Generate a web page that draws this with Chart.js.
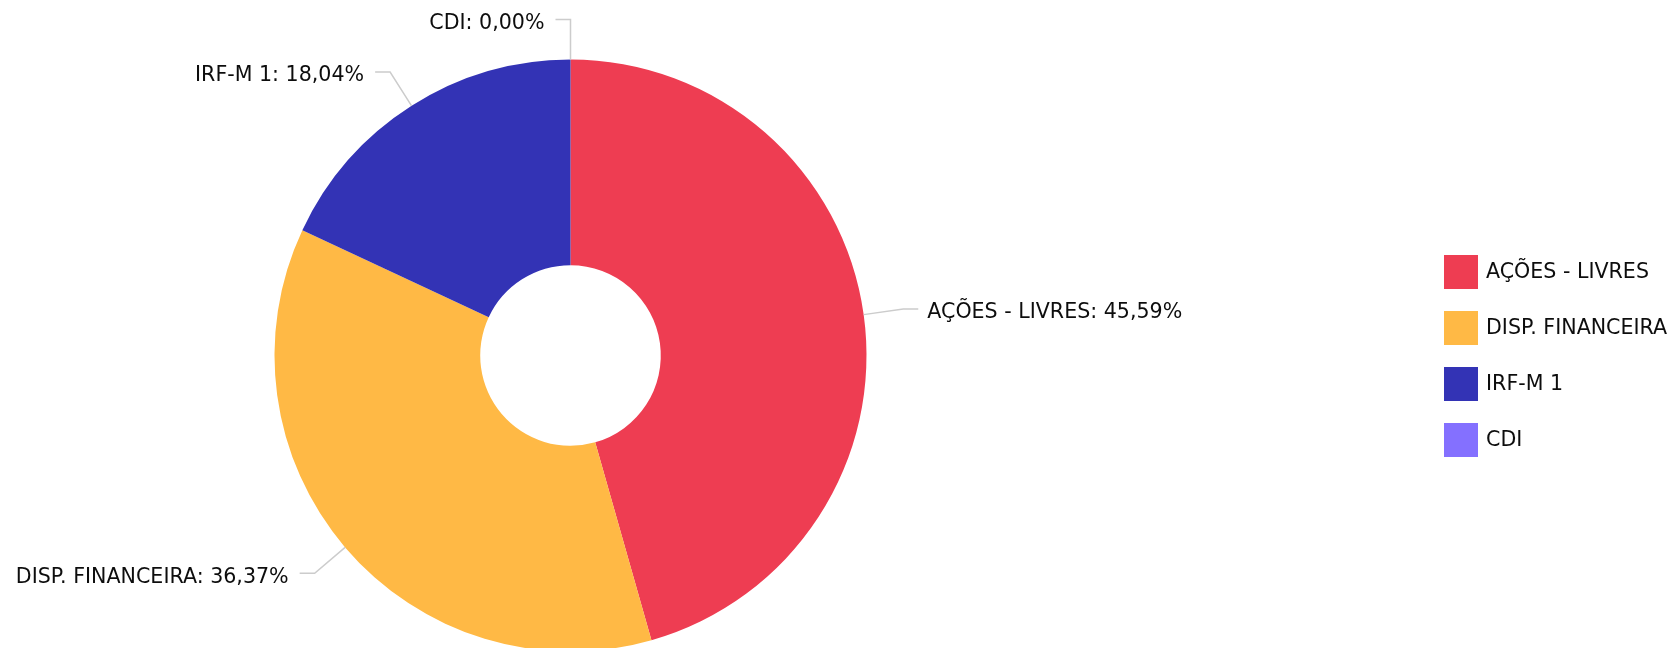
<!DOCTYPE html>
<html>
<head>
<meta charset="utf-8">
<script src="https://cdn.jsdelivr.net/npm/chart.js@4/dist/chart.umd.min.js"></script>
<style>
    html, body { margin: 0; padding: 0; background: #fff; overflow: hidden; }
    #wrap { width: 1675px; height: 648px; position: relative; }
</style>
</head>
<body>
<div id="wrap"><canvas id="allocChart"></canvas></div>
<script>
const categories = ['AÇÕES - LIVRES', 'DISP. FINANCEIRA', 'IRF-M 1', 'CDI'];
const shares = [45.59, 36.37, 18.04, 0.00];
const sliceColors = ['#EE3D52', '#FFB945', '#3333B5', '#8470FF'];

const FONT = '20.6px "DejaVu Sans", Verdana, sans-serif';

// labels outside the ring with a bent connector line
const sliceLabels = {
    id: 'sliceLabels',
    afterDatasetsDraw(chart) {
        const ctx = chart.ctx;
        const meta = chart.getDatasetMeta(0);
        ctx.save();
        ctx.font = FONT;
        ctx.textBaseline = 'middle';
        meta.data.forEach((arc, i) => {
            const p = arc.getProps(['x', 'y', 'startAngle', 'endAngle', 'outerRadius'], true);
            const mid = (p.startAngle + p.endAngle) / 2;
            const cos = Math.cos(mid), sin = Math.sin(mid);
            const ax = p.x + cos * p.outerRadius, ay = p.y + sin * p.outerRadius;
            const ex = p.x + cos * (p.outerRadius + 40), ey = p.y + sin * (p.outerRadius + 40);
            const right = cos > 0.001;
            const hx = ex + (right ? 15 : -15);

            ctx.strokeStyle = '#cccccc';
            ctx.lineWidth = 1.5;
            ctx.beginPath();
            ctx.moveTo(ax, ay);
            ctx.lineTo(ex, ey);
            ctx.lineTo(hx, ey);
            ctx.stroke();

            const txt = categories[i] + ': ' + shares[i].toFixed(2).replace('.', ',') + '%';
            ctx.fillStyle = '#0d0d0d';
            ctx.textAlign = right ? 'left' : 'right';
            ctx.fillText(txt, hx + (right ? 9 : -11), ey + 4);
        });
        ctx.restore();
    }
};

// square legend on the right side
const sideLegend = {
    id: 'sideLegend',
    afterDraw(chart) {
        const ctx = chart.ctx;
        const x0 = 1444, y0 = 255, box = 34, step = 56;
        ctx.save();
        ctx.font = FONT;
        ctx.textBaseline = 'middle';
        ctx.textAlign = 'left';
        categories.forEach((name, i) => {
            const y = y0 + i * step;
            ctx.fillStyle = sliceColors[i];
            ctx.fillRect(x0, y, box, box);
            ctx.fillStyle = '#0d0d0d';
            ctx.fillText(name, x0 + box + 8, y + box / 2 + 1);
        });
        ctx.restore();
    }
};

new Chart(document.getElementById('allocChart'), {
    type: 'doughnut',
    data: {
        labels: categories,
        datasets: [{
            data: shares,
            backgroundColor: sliceColors,
            borderWidth: 0,
            hoverOffset: 0,
            radius: 296,
            cutout: '30.5%',
            clip: false
        }]
    },
    options: {
        responsive: true,
        maintainAspectRatio: false,
        animation: false,
        events: [],
        layout: { padding: { top: 63, right: 534, left: 0, bottom: 0 } },
        plugins: {
            legend: { display: false },
            tooltip: { enabled: false }
        }
    },
    plugins: [sliceLabels, sideLegend]
});
</script>
</body>
</html>
